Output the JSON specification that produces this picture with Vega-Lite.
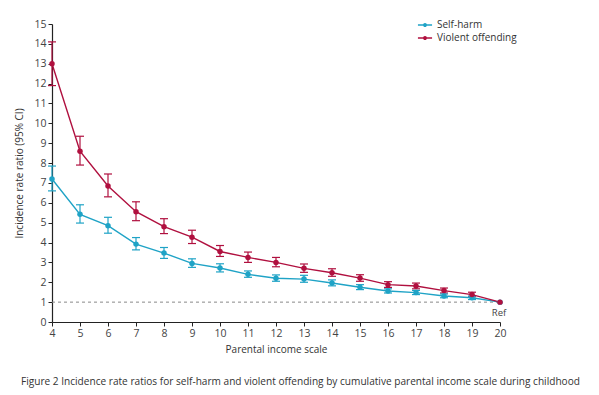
{
  "$schema": "https://vega.github.io/schema/vega-lite/v6.json",
  "autosize": {"type": "none"},
  "width": 448,
  "height": 298,
  "padding": {"left": 52, "top": 24, "right": 99, "bottom": 73},
  "background": "white",
  "config": {
    "view": {"stroke": null},
    "font": "Open Sans",
    "axis": {"grid": false, "domainColor": "#222", "tickColor": "#222", "labelColor": "#444", "labelFontSize": 10.5, "titleFontSize": 10, "titleFontWeight": "normal", "titleColor": "#333", "tickSize": 4, "domainWidth": 1.2, "labelOverlap": false, "format": "d"},
    "axisX": {"tickCount": 30, "labelFlush": false, "titlePadding": 6},
    "axisY": {"tickCount": 30, "titlePadding": 9}
  },
  "title": {
    "text": "Figure 2  Incidence rate ratios for self-harm and violent offending by cumulative parental income scale during childhood",
    "orient": "bottom",
    "anchor": "start",
    "frame": "bounds",
    "dx": 6,
    "offset": 22,
    "fontSize": 10.1,
    "fontWeight": "normal",
    "color": "#333",
    "font": "Open Sans"
  },
  "datasets": {
    "irr": [
      {"scale": 4, "outcome": "Self-harm", "irr": 7.2, "lo": 6.6, "hi": 7.85},
      {"scale": 5, "outcome": "Self-harm", "irr": 5.42, "lo": 4.98, "hi": 5.9},
      {"scale": 6, "outcome": "Self-harm", "irr": 4.85, "lo": 4.47, "hi": 5.27},
      {"scale": 7, "outcome": "Self-harm", "irr": 3.92, "lo": 3.63, "hi": 4.25},
      {"scale": 8, "outcome": "Self-harm", "irr": 3.47, "lo": 3.2, "hi": 3.75},
      {"scale": 9, "outcome": "Self-harm", "irr": 2.95, "lo": 2.75, "hi": 3.18},
      {"scale": 10, "outcome": "Self-harm", "irr": 2.72, "lo": 2.52, "hi": 2.93},
      {"scale": 11, "outcome": "Self-harm", "irr": 2.4, "lo": 2.25, "hi": 2.57},
      {"scale": 12, "outcome": "Self-harm", "irr": 2.2, "lo": 2.05, "hi": 2.37},
      {"scale": 13, "outcome": "Self-harm", "irr": 2.16, "lo": 2.0, "hi": 2.35},
      {"scale": 14, "outcome": "Self-harm", "irr": 1.96, "lo": 1.82, "hi": 2.12},
      {"scale": 15, "outcome": "Self-harm", "irr": 1.75, "lo": 1.63, "hi": 1.88},
      {"scale": 16, "outcome": "Self-harm", "irr": 1.56, "lo": 1.46, "hi": 1.67},
      {"scale": 17, "outcome": "Self-harm", "irr": 1.48, "lo": 1.38, "hi": 1.59},
      {"scale": 18, "outcome": "Self-harm", "irr": 1.31, "lo": 1.22, "hi": 1.41},
      {"scale": 19, "outcome": "Self-harm", "irr": 1.22, "lo": 1.13, "hi": 1.31},
      {"scale": 20, "outcome": "Self-harm", "irr": 1.0},
      {"scale": 4, "outcome": "Violent offending", "irr": 13.0, "lo": 11.9, "hi": 14.1},
      {"scale": 5, "outcome": "Violent offending", "irr": 8.6, "lo": 7.9, "hi": 9.35},
      {"scale": 6, "outcome": "Violent offending", "irr": 6.85, "lo": 6.3, "hi": 7.45},
      {"scale": 7, "outcome": "Violent offending", "irr": 5.55, "lo": 5.1, "hi": 6.05},
      {"scale": 8, "outcome": "Violent offending", "irr": 4.8, "lo": 4.45, "hi": 5.2},
      {"scale": 9, "outcome": "Violent offending", "irr": 4.27, "lo": 3.95, "hi": 4.62},
      {"scale": 10, "outcome": "Violent offending", "irr": 3.55, "lo": 3.3, "hi": 3.85},
      {"scale": 11, "outcome": "Violent offending", "irr": 3.25, "lo": 3.0, "hi": 3.52},
      {"scale": 12, "outcome": "Violent offending", "irr": 3.0, "lo": 2.78, "hi": 3.25},
      {"scale": 13, "outcome": "Violent offending", "irr": 2.7, "lo": 2.5, "hi": 2.92},
      {"scale": 14, "outcome": "Violent offending", "irr": 2.48, "lo": 2.3, "hi": 2.68},
      {"scale": 15, "outcome": "Violent offending", "irr": 2.21, "lo": 2.05, "hi": 2.38},
      {"scale": 16, "outcome": "Violent offending", "irr": 1.88, "lo": 1.74, "hi": 2.03},
      {"scale": 17, "outcome": "Violent offending", "irr": 1.81, "lo": 1.67, "hi": 1.96},
      {"scale": 18, "outcome": "Violent offending", "irr": 1.58, "lo": 1.46, "hi": 1.71},
      {"scale": 19, "outcome": "Violent offending", "irr": 1.38, "lo": 1.27, "hi": 1.5},
      {"scale": 20, "outcome": "Violent offending", "irr": 1.0}
    ],
    "ref": [{"x1": 4, "x2": 20, "y": 1}],
    "reflabel": [{"scale": 20, "y": 1, "label": "Ref"}]
  },
  "layer": [
    {
      "data": {"name": "ref"},
      "mark": {"type": "rule", "color": "#888", "strokeDash": [3, 3], "strokeWidth": 1},
      "encoding": {
        "x": {
          "field": "x1", "type": "quantitative",
          "scale": {"domain": [4, 20], "nice": false, "zero": false},
          "axis": {"title": "Parental income scale", "values": [4,5,6,7,8,9,10,11,12,13,14,15,16,17,18,19,20], "tickCount": 30, "format": "d"}
        },
        "x2": {"field": "x2"},
        "y": {
          "field": "y", "type": "quantitative",
          "scale": {"domain": [0, 15], "nice": false},
          "axis": {"title": "Incidence rate ratio (95% CI)", "values": [0,1,2,3,4,5,6,7,8,9,10,11,12,13,14,15], "tickCount": 30, "format": "d"}
        }
      }
    },
    {
      "data": {"name": "irr"},
      "mark": {"type": "rule", "strokeWidth": 1.2},
      "encoding": {
        "x": {"field": "scale", "type": "quantitative"},
        "y": {"field": "lo", "type": "quantitative"},
        "y2": {"field": "hi"},
        "color": {"field": "outcome", "type": "nominal"}
      }
    },
    {
      "data": {"name": "irr"},
      "mark": {"type": "tick", "orient": "horizontal", "size": 8, "thickness": 1.2, "opacity": 1},
      "encoding": {
        "x": {"field": "scale", "type": "quantitative"},
        "y": {"field": "lo", "type": "quantitative"},
        "color": {"field": "outcome", "type": "nominal"}
      }
    },
    {
      "data": {"name": "irr"},
      "mark": {"type": "tick", "orient": "horizontal", "size": 8, "thickness": 1.2, "opacity": 1},
      "encoding": {
        "x": {"field": "scale", "type": "quantitative"},
        "y": {"field": "hi", "type": "quantitative"},
        "color": {"field": "outcome", "type": "nominal"}
      }
    },
    {
      "data": {"name": "irr"},
      "mark": {"type": "line", "strokeWidth": 1.4, "point": {"filled": true, "size": 30, "opacity": 1}},
      "encoding": {
        "x": {"field": "scale", "type": "quantitative"},
        "y": {"field": "irr", "type": "quantitative"},
        "color": {
          "field": "outcome", "type": "nominal",
          "scale": {"domain": ["Self-harm", "Violent offending"], "range": ["#1fa3c6", "#b0103f"]},
          "legend": {
            "title": null, "orient": "none", "legendX": 365, "legendY": -7,
            "labelFontSize": 10, "labelColor": "#333",
            "symbolType": "M-1,0H1M-0.18,0A0.18,0.18 0 1,0 0.18,0A0.18,0.18 0 1,0 -0.18,0Z",
            "symbolSize": 200, "symbolStrokeWidth": 1.4, "rowPadding": 0
          }
        }
      }
    },
    {
      "data": {"name": "reflabel"},
      "mark": {"type": "text", "dy": 11, "dx": -1, "fontSize": 9.5, "color": "#444"},
      "encoding": {
        "x": {"field": "scale", "type": "quantitative"},
        "y": {"field": "y", "type": "quantitative"},
        "text": {"field": "label"}
      }
    }
  ]
}
